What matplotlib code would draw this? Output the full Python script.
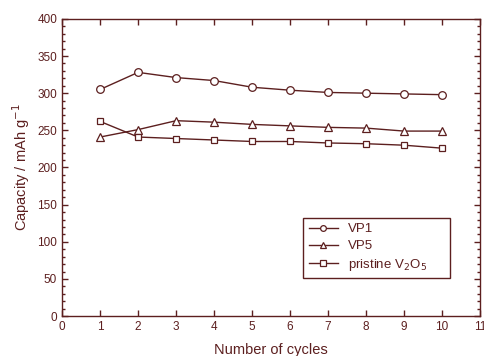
import matplotlib
matplotlib.use("Agg")
import matplotlib.pyplot as plt
from matplotlib.ticker import MultipleLocator

# Values
cycles = [1, 2, 3, 4, 5, 6, 7, 8, 9, 10]
vp1 = [305, 328, 321, 317, 308, 304, 301, 300, 299, 298]
vp5 = [241, 251, 263, 261, 258, 256, 254, 253, 249, 249]
pristine = [262, 241, 239, 237, 235, 235, 233, 232, 230, 226]

COL = "#5c1f1f"
plt.rcParams["font.family"] = ["Liberation Sans", "DejaVu Sans"]

fig = plt.figure(figsize=(4.85, 3.56), dpi=100)
ax = fig.add_axes([0.128, 0.112, 0.862, 0.835])

style = dict(color=COL, lw=1.0, markerfacecolor="white",
             markeredgecolor=COL, markeredgewidth=0.9)
ax.plot(cycles, vp1, marker="o", markersize=5.5, label="VP1", **style)
ax.plot(cycles, vp5, marker="^", markersize=5.5, label="VP5", **style)
ax.plot(cycles, pristine, marker="s", markersize=5, label="pristine V$_2$O$_5$", **style)

ax.set_xlim(0, 11)
ax.set_ylim(0, 400)
ax.xaxis.set_major_locator(MultipleLocator(1))
ax.yaxis.set_major_locator(MultipleLocator(50))
ax.yaxis.set_minor_locator(MultipleLocator(10))
ax.tick_params(which="both", direction="in", top=True, right=True,
               colors=COL, labelsize=8.5, width=1.0)
ax.tick_params(which="major", length=4)
ax.tick_params(which="minor", length=2)
for s in ax.spines.values():
    s.set_color(COL)
    s.set_linewidth(1.0)

ax.set_xlabel("Number of cycles", color=COL, fontsize=10.5, labelpad=7)
ax.set_ylabel("Capacity / mAh g$^{-1}$", color=COL, fontsize=10.5, labelpad=4)

leg = ax.legend(loc="lower left", bbox_to_anchor=(0.577, 0.128, 0.352, 0.225),
                mode="expand", fancybox=False, framealpha=1, edgecolor=COL,
                fontsize=9.5, handlelength=2.2, borderaxespad=0, labelspacing=0.35,
                markerscale=0.75)
for t in leg.get_texts():
    t.set_color(COL)

fig.savefig("out.png", dpi=100)
